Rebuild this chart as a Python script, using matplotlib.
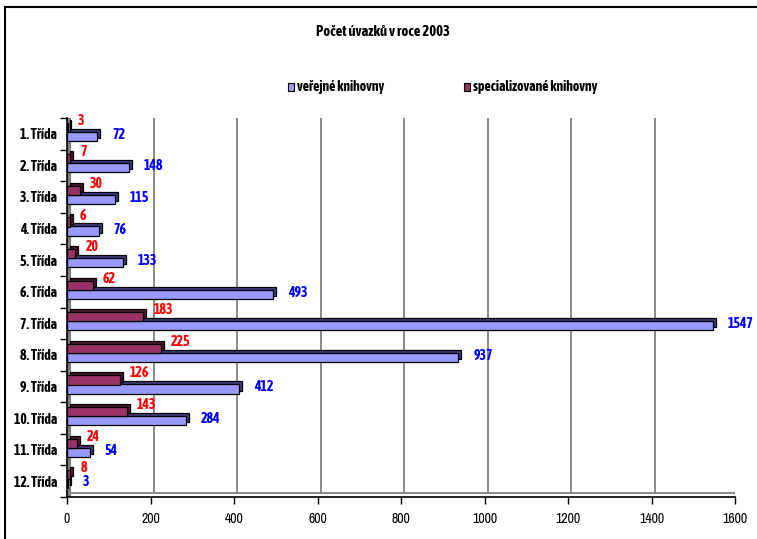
import numpy as np
import matplotlib

matplotlib.use("Agg")
import matplotlib.pyplot as plt
from matplotlib import font_manager as fm
from matplotlib.patches import Rectangle
from matplotlib.lines import Line2D
from matplotlib.transforms import offset_copy

# data
categories = ["1. Třída", "2. Třída", "3. Třída", "4. Třída", "5. Třída", "6. Třída",
              "7. Třída", "8. Třída", "9. Třída", "10. Třída", "11. Třída", "12. Třída"]
verejne = [72, 148, 115, 76, 133, 493, 1547, 937, 412, 284, 54, 3]
specializovane = [3, 7, 30, 6, 20, 62, 183, 225, 126, 143, 24, 8]
series_names = ["veřejné knihovny", "specializované knihovny"]
title = "Počet úvazků v roce 2003"
x_ticks = [0, 200, 400, 600, 800, 1000, 1200, 1400, 1600]


def _w(f):
    w = f.weight
    return fm.weight_dict.get(w, 400) if isinstance(w, str) else w


def narrow_font(bold, size):
    """Look for a condensed sans font (the original uses Arial Narrow)."""
    fonts = fm.fontManager.ttflist
    want = 700 if bold else 400
    prefs = [
        lambda f: f.name == "Liberation Sans Narrow",
        lambda f: "Condensed" in f.name or "Narrow" in f.name,
        lambda f: f.name == "DejaVu Sans" and f.stretch in ("condensed", "semi-condensed"),
    ]
    for p in prefs:
        c = [f for f in fonts if p(f) and "Italic" not in f.fname and "Oblique" not in f.fname]
        if c:
            c.sort(key=lambda f: abs(_w(f) - want))
            return fm.FontProperties(fname=c[0].fname, size=size), True
    fp = fm.FontProperties(family="Liberation Sans", size=size * 0.85,
                           weight="bold" if bold else "normal")
    return fp, False


fb, _ = narrow_font(True, 10)
fn, _ = narrow_font(False, 10)
ft, _ = narrow_font(True, 10.5)

W, H = 757, 539
fig = plt.figure(figsize=(W / 100, H / 100), dpi=100)


def px(x0, y0, x1, y1):
    return [x0 / W, 1 - y1 / H, (x1 - x0) / W, (y1 - y0) / H]


ax = fig.add_axes(px(67, 118, 735, 497))
n = len(categories)
pos = np.arange(n)
ax.set_xlim(0, 1600)
ax.set_ylim(n - 0.5, -0.5)

# back wall gridlines, shifted a bit for the 3D look
back = offset_copy(ax.transData, fig, x=3, y=4, units="dots")
for t in x_ticks[1:]:
    ax.plot([t, t], [n - 0.5, -0.5], color="#808080", lw=1.3, transform=back, zorder=1)
ax.plot([0, 1600], [-0.5, -0.5], color="#a0a0a0", lw=1.3, transform=back, zorder=1)
ax.plot([0, 1600], [n - 0.5, n - 0.5], color="#808080", lw=1.3, transform=back, zorder=1)
ax.plot([0, 0], [n - 0.5, -0.5], color="#808080", lw=3,
        transform=offset_copy(ax.transData, fig, x=2, y=2, units="dots"), zorder=1)

h = 0.29
blue_c = pos + 0.08
red_c = pos - 0.205
depth = offset_copy(ax.transData, fig, x=3, y=3, units="dots")

# shadow bar = top/side faces, then the front face
ax.barh(blue_c, verejne, height=h, color="#3c3c78", edgecolor="black", lw=0.9,
        transform=depth, zorder=2)
ax.barh(blue_c, verejne, height=h, color="#9999ff", edgecolor="black", lw=0.9, zorder=3)
ax.barh(red_c, specializovane, height=h, color="#4a1830", edgecolor="black", lw=0.9,
        transform=depth, zorder=4)
ax.barh(red_c, specializovane, height=h, color="#993366", edgecolor="black", lw=0.9, zorder=5)

for i in range(n):
    ax.annotate(str(verejne[i]), (verejne[i], pos[i]), xytext=(15, -1),
                textcoords="offset pixels", ha="left", va="center",
                color="#0000ff", fontproperties=fb, zorder=6, annotation_clip=False)
    ax.annotate(str(specializovane[i]), (specializovane[i], pos[i]), xytext=(10, 13),
                textcoords="offset pixels", ha="left", va="center",
                color="#ff0000", fontproperties=fb, zorder=6, annotation_clip=False)

ax.set_yticks(np.arange(n + 1) - 0.5, minor=True)
ax.set_yticks(pos)
ax.set_yticklabels(categories, fontproperties=fb)
ax.tick_params(axis="y", which="major", length=0, pad=7)
ax.tick_params(axis="y", which="minor", length=5, width=1, direction="out")
ax.set_xticks(x_ticks)
ax.set_xticklabels([str(t) for t in x_ticks], fontproperties=fn)
ax.tick_params(axis="x", length=5, width=1, direction="out", pad=6)

for s in ["top", "right"]:
    ax.spines[s].set_visible(False)
ax.spines["left"].set_linewidth(1.2)
ax.spines["bottom"].set_linewidth(1.2)
ax.set_facecolor("none")

fig.text(383 / W, 1 - 32 / H, title, ha="center", va="center", fontproperties=ft)

# legend
legend_items = [(291, "#9999ff", series_names[0]), (467, "#993366", series_names[1])]
for lx, col, name in legend_items:
    fig.patches.append(Rectangle((lx / W - 3 / W, 1 - 91 / H), 6 / W, 8 / H,
                                 transform=fig.transFigure, facecolor=col,
                                 edgecolor="black", lw=0.8))
    fig.text((lx + 6) / W, 1 - 87 / H, name, ha="left", va="center", fontproperties=fb)

# outer frame
fig.add_artist(Line2D([5 / W, 5 / W], [0, 1 - 7 / H], color="black", lw=1.5,
                      transform=fig.transFigure))
fig.add_artist(Line2D([5 / W, 1], [1 - 7 / H, 1 - 7 / H], color="black", lw=1.5,
                      transform=fig.transFigure))

fig.savefig("out.png", dpi=100)
